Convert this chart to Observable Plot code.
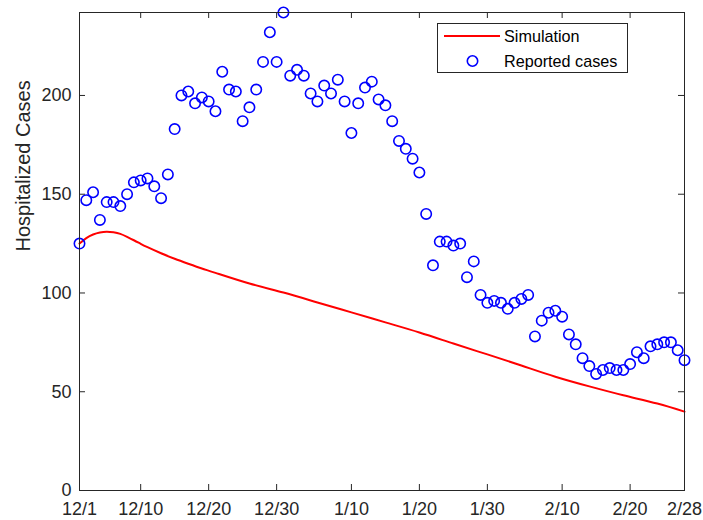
<!DOCTYPE html>
<html>
<head>
<meta charset="utf-8">
<script src="https://cdn.jsdelivr.net/npm/d3@7"></script>
<script src="https://cdn.jsdelivr.net/npm/@observablehq/plot@0.6"></script>
<style>
  html, body { margin: 0; padding: 0; background: #fff; }
  #wrap { position: relative; width: 703px; height: 520px; font-family: "Liberation Sans", Arial, Helvetica, sans-serif; }
  #legend { position: absolute; left: 437px; top: 23px; width: 189px; height: 48px; border: 1px solid #262626; background: #fff; box-sizing: content-box; }
  #legend svg { position: absolute; left: 0; top: 0; }
</style>
</head>
<body>
<div id="wrap"></div>
<script>
// Day index 0 = 12/1 ... 89 = 2/28
const reportedDays = d3.range(0, 90);
const reportedCases = [
  125, 147, 151, 137, 146, 146, 144, 150, 156, 157,
  158, 154, 148, 160, 183, 200, 202, 196, 199, 197,
  192, 212, 203, 202, 187, 194, 203, 217, 232, 217,
  242, 210, 213, 210, 201, 197, 205, 201, 208, 197,
  181, 196, 204, 207, 198, 195, 187, 177, 173, 168,
  161, 140, 114, 126, 126, 124, 125, 108, 116, 99,
  95, 96, 95, 92, 95, 97, 99, 78, 86, 90,
  91, 88, 79, 74, 67, 63, 59, 61, 62, 61,
  61, 64, 70, 67, 73, 74, 75, 75, 71, 66
];

const simDays   = [0, 1, 2, 3, 4, 5, 6, 7, 8, 9, 10, 12, 14, 16, 18, 20, 25, 30, 35, 40, 45, 50, 55, 60, 65, 70, 75, 80, 85, 89];
const simValues = [125, 127.8, 129.6, 130.6, 131.0, 130.7, 129.9, 128.4, 126.7, 124.9, 123.2, 120.1, 117.3, 114.8, 112.4, 110.2, 104.8, 100.2, 95.2, 90.2, 85.1, 80, 74.4, 68.9, 63.3, 57.6, 52.7, 48.2, 44, 39.9];

const xTickDays   = [0, 9, 19, 29, 40, 50, 60, 71, 81, 89];
const xTickLabels = ["12/1", "12/10", "12/20", "12/30", "1/10", "1/20", "1/30", "2/10", "2/20", "2/28"];
const yTicks = [0, 50, 100, 150, 200];

const yLabel = "Hospitalized Cases";
const legendLabels = ["Simulation", "Reported cases"];

const reported = reportedDays.map((d, i) => ({day: d, value: reportedCases[i]}));
const sim = simDays.map((d, i) => ({day: d, value: simValues[i]}));
const xLabelOf = new Map(xTickDays.map((d, i) => [d, xTickLabels[i]]));

const W = 703, H = 520;
const mL = 79, mR = 19, mT = 12, mB = 30;
const fw = W - mL - mR, fh = H - mT - mB;
const axisColor = "#262626";

const chart = Plot.plot({
  width: W,
  height: H,
  marginLeft: mL,
  marginRight: mR,
  marginTop: mT,
  marginBottom: mB,
  style: {fontFamily: "'Liberation Sans', Arial, Helvetica, sans-serif", fontSize: "18px", color: axisColor, background: "#fff"},
  x: {type: "linear", domain: [0, 89]},
  y: {type: "linear", domain: [0, 242]},
  marks: [
    Plot.line(sim, {x: "day", y: "value", stroke: "#ff0000", strokeWidth: 2, curve: "natural"}),
    Plot.dot(reported, {x: "day", y: "value", r: 5.2, stroke: "#0000ff", strokeWidth: 1.6, fill: "none"}),
    Plot.frame({stroke: axisColor, strokeWidth: 1}),
    // inward ticks (bottom, top, left, right)
    Plot.tickX(xTickDays, {x: d => d, insetTop: fh - 6, stroke: axisColor}),
    Plot.tickX(xTickDays, {x: d => d, insetBottom: fh - 6, stroke: axisColor}),
    Plot.tickY(yTicks, {y: d => d, insetRight: fw - 6, stroke: axisColor}),
    Plot.tickY(yTicks, {y: d => d, insetLeft: fw - 6, stroke: axisColor}),
    Plot.axisX(xTickDays, {anchor: "bottom", tickSize: 0, tickPadding: 12, tickFormat: d => xLabelOf.get(d), label: null, fontSize: 18, fill: axisColor}),
    Plot.axisY(yTicks, {anchor: "left", tickSize: 0, tickPadding: 8, label: null, fontSize: 18, fill: axisColor}),
    Plot.text([yLabel], {frameAnchor: "left", rotate: -90, dx: -56, fontSize: 20, fill: axisColor})
  ]
});

const wrap = document.getElementById("wrap");
wrap.appendChild(chart);

// Legend
const legend = document.createElement("div");
legend.id = "legend";
const ns = "http://www.w3.org/2000/svg";
const lsvg = document.createElementNS(ns, "svg");
lsvg.setAttribute("width", 189);
lsvg.setAttribute("height", 48);
const mk = (tag, attrs) => { const e = document.createElementNS(ns, tag); for (const k in attrs) e.setAttribute(k, attrs[k]); lsvg.appendChild(e); return e; };
mk("line", {x1: 6, x2: 62, y1: 12, y2: 12, stroke: "#ff0000", "stroke-width": 2});
mk("circle", {cx: 34.5, cy: 37, r: 5.2, fill: "none", stroke: "#0000ff", "stroke-width": 1.6});
const t1 = mk("text", {x: 66, y: 12, dy: "0.35em", "font-size": 16.2, fill: "#000"});
t1.textContent = legendLabels[0];
const t2 = mk("text", {x: 66, y: 37, dy: "0.35em", "font-size": 16.2, fill: "#000"});
t2.textContent = legendLabels[1];
legend.appendChild(lsvg);
wrap.appendChild(legend);
</script>
</body>
</html>
